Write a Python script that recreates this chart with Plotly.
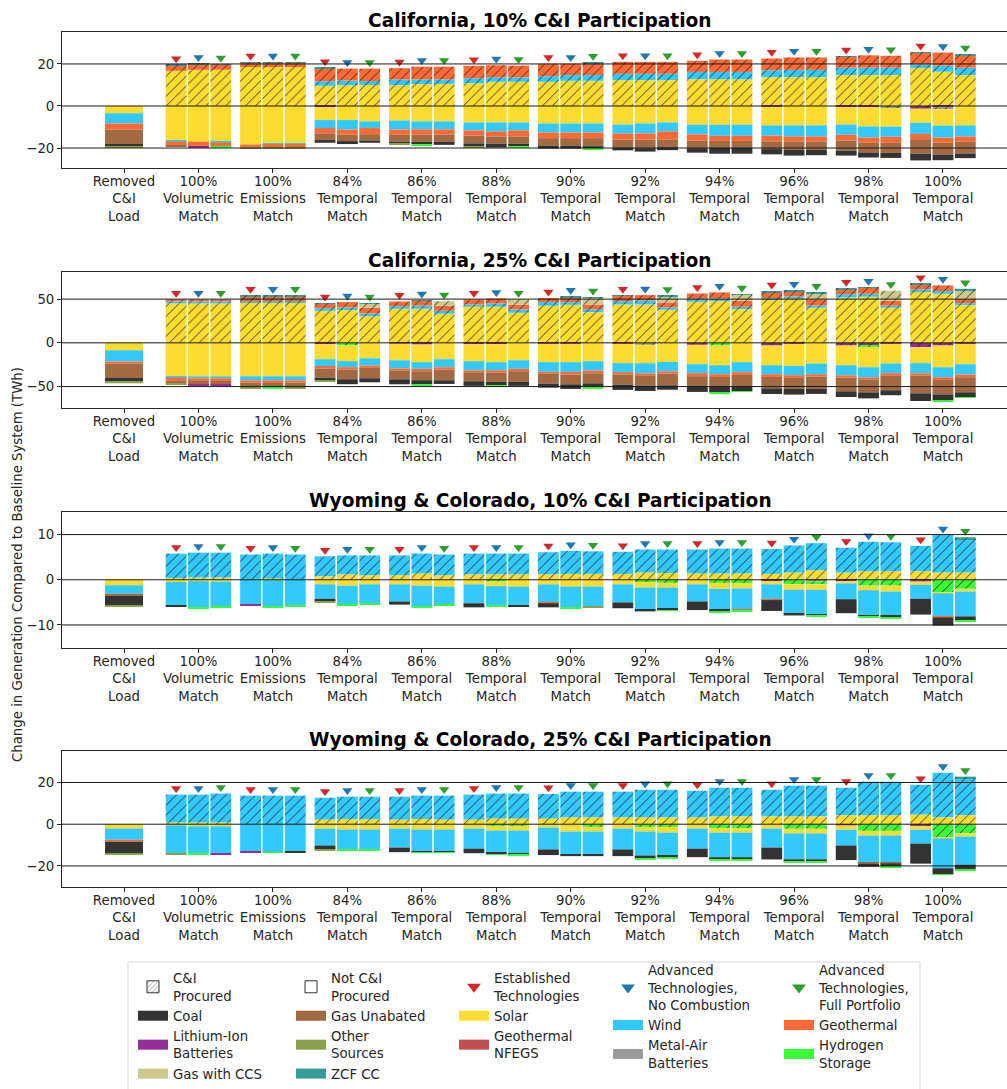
import plotly.graph_objects as go

W, H = 1007, 1089

# ---------------------------------------------------------------------------
# Categories
# ---------------------------------------------------------------------------
GROUP_LABELS = [
    "Removed<br>C&I<br>Load",
    "100%<br>Volumetric<br>Match",
    "100%<br>Emissions<br>Match",
    "84%<br>Temporal<br>Match", "86%<br>Temporal<br>Match", "88%<br>Temporal<br>Match",
    "90%<br>Temporal<br>Match", "92%<br>Temporal<br>Match", "94%<br>Temporal<br>Match",
    "96%<br>Temporal<br>Match", "98%<br>Temporal<br>Match", "100%<br>Temporal<br>Match",
]
SCENARIOS = [
    "Established<br>Technologies",
    "Advanced<br>Technologies,<br>No Combustion",
    "Advanced<br>Technologies,<br>Full Portfolio",
]

# Each list: [Removed load, then (Established, No Combustion, Full Portfolio) x 11 cases]
# Values in TWh; *_ci = C&I procured resources, others = rest of the system.

# --- California, 10% C&I participation ---
ca10_solar_ci = [0, 16.7, 17.2, 17.2, 18.5, 18.5, 18.5, 9.6, 9.9, 10.0, 9.9, 10.4, 10.5, 10.8, 11.5, 11.5, 11.5, 12.0, 12.0, 12.3, 12.3, 12.3, 12.7, 12.7, 12.7, 13.7, 13.7, 13.7, 14.7, 14.7, 14.7, 18.0, 16.3, 14.7]
ca10_wind_ci = [0, 0, 0, 0, 0, 0, 0, 2.2, 2.2, 1.9, 2.7, 2.2, 2.1, 2.4, 2.2, 2.1, 2.7, 2.7, 2.7, 3.0, 3.0, 3.0, 3.5, 3.5, 3.5, 3.3, 3.5, 3.5, 3.5, 3.5, 3.5, 1.8, 2.9, 3.5]
ca10_geo_ci = [0, 2.7, 2.7, 2.5, 2.1, 2.1, 2.1, 6.2, 5.7, 5.9, 5.4, 6.1, 6.1, 5.9, 5.7, 5.6, 5.9, 5.4, 5.7, 5.7, 5.7, 5.7, 5.3, 5.9, 5.9, 5.6, 5.9, 5.9, 5.3, 5.9, 5.7, 5.6, 6.2, 6.0]
ca10_zcf_ci = [0, 0.2, 0.2, 0.2, 0.3, 0.3, 0.3, 0.1, 0, 0, 0, 0, 0, 0, 0, 0, 0, 0, 0.3, 0, 0, 0, 0, 0, 0, 0, 0, 0, 0.2, 0, 0, 0.2, 0, 0.5]
ca10_li_ci = [0, 0, 0, 0, 0, 0, 0, -0.6, 0, 0, 0, 0, 0, 0, 0, 0, 0, 0, 0, 0, 0, 0, 0, 0, 0, -0.4, 0, 0, -0.6, -0.6, 0, -1.3, -0.5, 0]
ca10_metal_ci = [0, 0, 0, 0, 0, 0, 0, 0, 0, 0, 0, 0, 0, 0, 0, 0, 0, 0, 0, 0, 0, 0, 0, 0, 0, 0, 0, 0, 0, 0, -1.0, 0, -1.0, 0]
ca10_solar = [-3.5, -16.4, -16.9, -16.9, -18.3, -17.8, -17.8, -6.1, -6.7, -7.3, -6.9, -7.3, -7.3, -7.8, -7.8, -7.8, -8.3, -8.3, -8.3, -8.8, -8.3, -7.8, -8.9, -8.9, -8.9, -8.8, -9.2, -9.2, -8.2, -9.1, -8.8, -6.7, -7.8, -9.2]
ca10_wind = [-4.8, -0.5, 0, -0.5, 0, -0.3, -0.3, -3.8, -4.5, -3.2, -4.3, -3.8, -3.8, -3.8, -4.3, -3.8, -4.3, -4.3, -4.3, -4.3, -4.8, -4.3, -4.6, -5.3, -5.3, -4.9, -5.3, -5.3, -4.9, -5.3, -4.8, -5.3, -5.7, -5.3]
ca10_geo = [-2.9, -1.9, -2.4, -1.7, -1.4, -1.6, -1.6, -2.5, -2.5, -2.9, -2.5, -2.5, -2.5, -2.5, -2.4, -2.9, -2.7, -2.7, -2.7, -2.9, -2.9, -3.8, -2.9, -2.4, -2.4, -2.7, -2.4, -2.4, -2.7, -2.5, -2.9, -2.5, -2.5, -2.5]
ca10_gas = [-7.1, -0.3, 0, 0, 0, 0, 0, -3.2, -3.0, -3.0, -3.2, -3.5, -3.5, -3.7, -3.5, -3.5, -3.7, -3.7, -3.8, -3.7, -4.1, -3.7, -3.7, -3.2, -3.2, -3.7, -4.0, -4.0, -4.8, -4.6, -4.8, -6.9, -5.6, -5.6]
ca10_coal = [-0.8, 0, 0, 0, 0, 0, 0, -1.3, -1.4, -1.1, -1.1, -1.0, -1.4, -1.3, -1.8, -1.1, -1.3, -1.3, -1.0, -1.4, -1.6, -1.4, -2.1, -2.9, -2.9, -2.5, -2.7, -2.5, -2.4, -2.4, -2.4, -3.2, -2.7, -2.2]
ca10_other = [-0.6, 0, 0, 0, -0.3, -0.3, -0.3, 0, 0, 0, -0.5, 0, 0, -0.6, 0, 0, 0, 0, 0, 0, 0, 0, 0, 0, 0, 0, 0, 0, 0, 0, 0, 0, 0, 0]
ca10_li = [0, 0, -0.5, 0, 0, 0, 0, 0, 0, 0, 0, 0, 0, 0, 0, 0, 0, 0, 0, 0, 0, 0, 0, 0, 0, 0, 0, 0, 0, 0, 0, 0, 0, 0]
ca10_h2 = [0, 0, 0, -0.6, 0, 0, 0, 0, 0, 0, 0, -0.5, 0, 0, 0, -0.6, 0, 0, -0.5, 0, 0, 0, 0, 0, 0, 0, 0, 0, 0, 0, 0, 0, 0, 0]

# --- California, 25% C&I participation ---
ca25_solar_ci = [0, 45.0, 45.0, 45.0, 46.6, 46.6, 46.6, 36.6, 37.4, 30.5, 38.9, 38.9, 33.2, 41.2, 41.2, 34.4, 42.4, 43.5, 35.1, 43.9, 43.9, 37.8, 46.9, 47.7, 38.5, 49.2, 50.4, 40.1, 51.9, 52.7, 40.1, 58.0, 56.1, 43.1]
ca25_wind_ci = [0, 2.3, 2.3, 2.3, 0.8, 0.8, 0.8, 3.1, 3.1, 3.1, 3.1, 3.8, 3.4, 2.7, 3.8, 3.8, 4.2, 3.1, 3.4, 3.8, 4.6, 2.7, 3.4, 3.1, 2.7, 1.9, 2.7, 2.7, 3.8, 3.4, 2.3, 3.1, 3.1, 2.3]
ca25_geo_ci = [0, 2.3, 2.3, 2.3, 6.1, 6.1, 6.1, 5.0, 6.1, 6.5, 5.3, 5.7, 5.7, 5.7, 5.7, 5.3, 4.6, 5.7, 5.3, 6.1, 6.1, 5.7, 6.1, 6.9, 6.9, 6.9, 6.1, 6.9, 5.7, 6.9, 5.7, 5.7, 6.5, 5.0]
ca25_ccs_ci = [0, 0, 0, 0, 0, 0, 0, 0, 0, 4.6, 0, 0, 5.3, 0, 0, 6.1, 0, 0, 7.6, 0, 0, 7.3, 0, 0, 6.9, 0, 0, 6.9, 0, 0, 11.5, 0, 0, 9.9]
ca25_zcf_ci = [0, 0, 0, 0, 0.8, 0.8, 0.8, 0.8, 0, 0.8, 0, 0.4, 0, 0, 0, 0, 0, 0.8, 0.8, 0.6, 0, 0.6, 0, 0, 0.8, 1.1, 0.8, 1.1, 0.8, 0.4, 0, 0.5, 0, 1.5]
ca25_li_ci = [0, 0, 0, 0, 0, 0, 0, -1.5, 0, 0, -0.8, -1.9, 0, -1.5, -1.5, 0, -1.1, -1.1, 0, -1.1, 0, 0, -2.3, 0, 0, -3.1, -1.1, 0, -3.1, -2.7, -1.1, -5.0, -3.1, -1.1]
ca25_metal_ci = [0, 0, 0, 0, 0, 0, 0, 0, 0, 0, 0, 0, 0, 0, 0, 0, 0, 0, 0, 0, -2.3, 0, 0, 0, 0, 0, 0, 0, 0, 0, 0, 0, 0, 0]
ca25_h2_ci = [0, 0, 0, 0, 0, 0, 0, 0, -3.0, 0, 0, 0, 0, 0, 0, 0, 0, 0, 0, 0, 0, 0, 0, -3.1, 0, 0, 0, 0, 0, -1.9, 0, 0, 0, 0]
ca25_solar = [-8.4, -38.2, -38.2, -38.2, -38.2, -38.2, -38.2, -17.2, -17.9, -17.6, -19.1, -20.2, -18.7, -19.5, -20.6, -19.8, -21.0, -21.0, -21.0, -22.1, -21.0, -21.8, -22.1, -22.5, -22.1, -22.5, -25.2, -23.7, -22.5, -23.3, -22.5, -18.3, -24.8, -23.3]
ca25_wind = [-13.0, -1.5, -2.3, -2.3, -4.6, -4.6, -4.6, -8.8, -6.9, -8.4, -9.2, -7.6, -9.2, -10.3, -9.2, -9.9, -11.1, -11.1, -10.7, -10.3, -11.5, -10.7, -10.3, -10.3, -11.5, -10.3, -10.7, -12.2, -11.5, -11.5, -11.1, -11.5, -11.5, -11.8]
ca25_geo = [-2.3, -3.8, -3.1, -3.1, -2.7, -3.1, -2.7, -1.9, -2.7, -2.7, -2.3, -2.7, -2.7, -2.3, -2.7, -2.7, -2.3, -3.1, -3.1, -2.7, -2.3, -2.7, -3.4, -3.1, -3.1, -3.1, -3.1, -2.7, -2.7, -2.3, -3.1, -2.7, -3.1, -3.1]
ca25_gas = [-16.4, -3.0, -3.8, -3.8, -5.0, -4.6, -5.0, -10.5, -11.1, -11.8, -10.3, -10.3, -12.2, -10.3, -10.7, -12.2, -11.1, -11.1, -11.5, -11.5, -11.8, -13.4, -11.5, -11.5, -13.0, -13.0, -12.6, -14.1, -15.6, -14.9, -16.4, -20.2, -16.4, -17.2]
ca25_coal = [-4.6, 0, 0, 0, 0, 0, 0, -3.0, -5.7, -4.6, -5.7, -4.6, -4.2, -5.3, -4.2, -4.6, -4.6, -5.3, -4.6, -6.1, -6.1, -5.0, -6.5, -6.1, -5.7, -6.5, -6.5, -5.7, -6.5, -6.9, -5.7, -8.8, -6.9, -5.7]
ca25_other = [-1.5, -1.5, 0, 0, -1.5, 0, -1.5, -1.0, 0, 0, 0, 0, 0, 0, 0, 0, 0, 0, 0, 0, 0, 0, 0, 0, 0, 0, 0, 0, 0, 0, 0, 0, 0, 0]
ca25_li = [0, 0, -1.9, -1.9, 0, 0, 0, 0, 0, 0, 0, 0, 0, 0, 0, 0, 0, 0, 0, 0, 0, 0, 0, 0, 0, 0, 0, 0, 0, 0, 0, 0, 0, 0]
ca25_h2 = [0, 0, 0, 0, 0, -1.9, 0, 0, 0, 0, 0, -1.1, 0, 0, -1.1, 0, 0, 0, -0.8, 0, 0, 0, 0, -0.8, -0.8, 0, 0, 0, 0, 0, 0, 0, -0.8, -0.8]

# --- Wyoming & Colorado, 10% C&I participation ---
wy10_solar_ci = [0, 0.4, 0.5, 0.5, 0.1, 0.3, 0, 0.8, 1.2, 1.0, 1.0, 1.4, 1.0, 1.2, 1.2, 1.2, 1.2, 1.3, 1.3, 1.3, 1.6, 1.5, 1.4, 1.4, 1.4, 1.3, 1.6, 2.1, 1.6, 1.9, 1.9, 1.9, 1.6, 1.6]
wy10_wind_ci = [0, 5.4, 5.5, 5.5, 5.5, 5.5, 5.6, 4.4, 4.2, 4.4, 4.4, 4.4, 4.6, 4.6, 4.6, 4.6, 4.9, 5.1, 5.0, 4.9, 5.1, 5.2, 5.3, 5.5, 5.5, 5.5, 6.0, 6.0, 5.5, 6.5, 6.4, 5.6, 8.3, 7.4]
wy10_zcf_ci = [0, 0, 0, 0, 0, 0, 0, 0, 0, 0, 0, 0, 0, 0, 0, 0, 0, 0, 0, 0, 0, 0, 0, 0, 0, 0, 0, 0, 0, 0, 0, 0, 0, 0.4]
wy10_li_ci = [0, 0, 0, 0, 0, 0, 0, 0, 0, 0, 0, 0, 0, 0, 0, 0, 0, 0, 0, 0, 0, 0, 0, 0, 0, -0.3, 0, 0, -0.3, 0, 0, -0.4, 0, 0]
wy10_metal_ci = [0, 0, 0, 0, 0, 0, 0, 0, 0, 0, 0, 0, 0, 0, 0, 0, 0, 0, 0, 0, 0, 0, 0, 0, 0, 0, 0, -0.4, 0, 0, 0, 0, 0, 0]
wy10_h2_ci = [0, 0, 0, 0, 0, 0, 0, 0, 0, 0, 0, 0, 0, 0, -0.4, 0, 0, 0, 0, 0, -0.5, -0.7, 0, -0.7, -0.8, 0, -1.0, -0.6, 0, -1.3, -1.3, 0, -2.8, -2.0]
wy10_solar = [-1.2, -0.5, -0.3, -0.4, 0, -0.1, 0, -1.0, -1.3, -1.0, -1.0, -1.3, -1.5, -1.0, -1.0, -1.5, -1.0, -1.5, -1.5, -1.0, -1.2, -1.0, -1.0, -1.3, -1.1, -0.7, -1.2, -1.2, -0.5, -1.0, -1.3, -0.7, -0.2, -0.6]
wy10_wind = [-1.9, -5.2, -5.8, -5.5, -5.5, -5.8, -5.8, -3.2, -4.1, -4.2, -3.8, -4.6, -4.0, -4.2, -4.4, -4.2, -4.0, -4.6, -4.4, -4.0, -4.9, -4.6, -3.8, -4.6, -4.6, -3.3, -5.3, -5.5, -3.5, -5.5, -5.3, -3.1, -5.2, -5.5]
wy10_geo = [0, 0, 0, 0, 0, 0, 0, 0, 0, 0, 0, 0, 0, 0, 0, 0, -0.2, 0, 0, 0, 0, 0, 0, 0, -0.3, -0.2, 0, 0, 0, 0, 0, 0, -0.15, 0]
wy10_gas = [-0.5, 0, 0, 0, 0, 0, 0, 0, 0, 0, 0, 0, 0, 0, 0, 0, 0, 0, 0, 0, 0, 0, 0, 0, 0, 0, 0, 0, 0, 0, 0, 0, 0, 0]
wy10_coal = [-2.1, -0.15, 0, 0, 0, 0, 0, -0.6, 0, 0, -0.7, 0, 0, -0.9, 0, -0.2, -0.9, 0, 0, -1.3, -0.4, -0.4, -1.9, -0.4, 0, -2.4, -0.4, -0.2, -3.1, -0.4, -0.4, -3.5, -1.8, -1.0]
wy10_other = [-0.2, 0, 0, 0, 0, 0, 0, -0.3, 0, 0, 0, 0, 0, 0, 0, 0, 0, 0, -0.3, 0, 0, 0, 0, 0, 0, 0, 0, 0, 0, 0, 0, 0, 0, 0]
wy10_li = [0, 0, 0, 0, -0.2, 0, 0, 0, 0, 0, 0, 0, 0, 0, 0, 0, 0, 0, 0, 0, 0, 0, 0, 0, 0, 0, 0, 0, 0, 0, 0, 0, 0, 0]
wy10_h2 = [0, 0, -0.15, -0.15, 0, -0.15, -0.15, 0, -0.3, -0.2, 0, -0.2, -0.2, 0, -0.2, 0, 0, -0.3, 0, 0, 0, -0.2, 0, -0.2, -0.3, 0, 0, -0.2, 0, -0.2, -0.2, 0, 0, -0.2]

# --- Wyoming & Colorado, 25% C&I participation ---
wy25_solar_ci = [0, 0.8, 0.8, 0.8, 0, 0, 0, 2.2, 2.4, 2.4, 2.2, 2.5, 2.2, 2.2, 2.7, 2.7, 2.7, 3.3, 3.3, 3.3, 3.3, 3.3, 3.3, 3.8, 3.8, 3.8, 3.8, 3.8, 4.3, 4.3, 4.3, 4.6, 3.3, 4.3]
wy25_wind_ci = [0, 13.4, 13.4, 13.9, 13.7, 13.7, 13.7, 10.5, 10.8, 10.8, 11.0, 11.2, 11.5, 12.0, 12.0, 12.0, 11.8, 12.3, 12.3, 12.3, 13.2, 13.2, 12.7, 13.7, 13.7, 12.7, 14.7, 14.7, 13.2, 16.1, 16.1, 14.3, 21.4, 17.7]
wy25_zcf_ci = [0, 0, 0, 0, 0, 0, 0, 0, 0, 0, 0, 0, 0, 0, 0, 0, 0, 0, 0, 0, 0, 0, 0, 0, 0, 0, 0, 0, 0, 0, 0, 0, 0, 0.8]
wy25_li_ci = [0, 0, 0, 0, 0, 0, 0, 0, 0, 0, 0, 0, 0, 0, 0, 0, 0, 0, 0, 0, 0, 0, 0, 0, 0, 0, 0, 0, -0.5, 0, 0, -0.8, 0, 0]
wy25_h2_ci = [0, 0, 0, 0, 0, 0, 0, 0, 0, 0, 0, 0, 0, 0, -0.8, -0.8, 0, 0, -1.3, 0, -1.3, -1.3, 0, -1.8, -1.8, 0, -2.2, -2.2, 0, -3.2, -3.2, 0, -6.2, -4.3]
wy25_solar = [-2.1, -0.6, -1.0, -1.0, 0, 0, 0, -2.1, -2.5, -2.5, -2.1, -2.5, -2.5, -2.1, -2.2, -2.2, -1.6, -3.5, -2.2, -2.1, -2.2, -2.7, -2.1, -2.2, -2.2, -2.1, -2.2, -2.2, -2.1, -2.2, -2.2, -1.8, -0.6, -1.6]
wy25_wind = [-5.3, -13.2, -12.9, -12.9, -13.1, -13.4, -13.1, -8.1, -9.4, -9.4, -9.1, -10.5, -10.5, -9.6, -10.5, -11.0, -10.5, -11.0, -11.0, -10.0, -11.5, -11.0, -9.6, -11.8, -11.8, -9.1, -12.4, -12.4, -7.6, -13.1, -13.1, -6.7, -14.3, -13.5]
wy25_geo = [-1.0, 0, 0, 0, 0, 0, 0, 0, 0, 0, 0, 0, 0, 0, 0, 0, 0, 0, 0, 0, 0, 0, 0, 0, 0, 0, 0, 0, 0, 0, 0, 0, 0, 0]
wy25_gas = [0, 0, 0, 0, 0, 0, 0, 0, 0, 0, 0, 0, 0, 0, 0, 0, 0, 0, 0, 0, 0, 0, 0, 0, 0, 0, 0, 0, 0, -0.5, -0.3, 0, 0, 0]
wy25_coal = [-5.6, 0, 0, 0, 0, 0, -0.4, -1.8, -0.4, -0.4, -2.2, -0.4, -0.4, -2.2, -0.8, -0.5, -2.7, -0.8, -0.8, -3.2, -1.3, -0.8, -4.1, -1.0, -1.0, -5.7, -1.3, -1.3, -7.0, -1.4, -1.3, -9.6, -2.9, -2.5]
wy25_other = [-0.5, -0.5, 0, 0, 0, 0, 0, -0.5, 0, 0, 0, 0, 0, 0, 0, 0, 0, 0, 0, 0, 0, 0, 0, 0, 0, 0, 0, 0, 0, 0, 0, 0, 0, 0]
wy25_li = [0, 0, 0, -0.4, -0.4, 0, 0, 0, 0, 0, 0, 0, 0, 0, 0, 0, 0, 0, 0, 0, 0, 0, 0, 0, 0, 0, 0, 0, 0, 0, 0, 0, 0, 0]
wy25_h2 = [0, 0, -0.4, 0, 0, -0.4, 0, 0, -0.4, -0.4, 0, -0.3, -0.3, 0, -0.4, -0.3, 0, 0, 0, 0, -0.5, -0.5, 0, -0.5, -0.5, 0, -0.5, -0.5, 0, 0, -0.5, 0, -0.3, -0.5]

# ---------------------------------------------------------------------------
# Styling
# ---------------------------------------------------------------------------
COAL = "#333333"
GAS = "#a26a42"
SOLAR = "#fddc32"
WIND = "#33c9fd"
GEO = "#fe6a35"
NFEGS = "#c24f4e"
LI = "#952e9a"
OTHER = "#87a24b"
CCS = "#cdc88c"
ZCF = "#339b98"
METAL = "#9a9a9a"
H2 = "#38fd38"
SCEN_COLORS = ["#d62728", "#1f77b4", "#2ca02c"]

FONT = "DejaVu Sans"
TXT = "#262626"
FS = 13.3

# stacking order (positives grow up, negatives grow down, in this order)
STACK = [
    ("solar_ci", SOLAR, True), ("wind_ci", WIND, True), ("geo_ci", GEO, True),
    ("ccs_ci", CCS, True), ("zcf_ci", ZCF, True),
    ("li_ci", LI, True), ("metal_ci", METAL, True), ("h2_ci", H2, True),
    ("solar", SOLAR, False), ("wind", WIND, False), ("geo", GEO, False),
    ("gas", GAS, False), ("coal", COAL, False), ("other", OTHER, False),
    ("li", LI, False), ("h2", H2, False),
]

PANELS = [
    dict(title="California, 10% C&I Participation", ticks=[-20, 0, 20],
         yrange=[-29.5, 35.2], top=32, bottom=168,
         data=dict(solar_ci=ca10_solar_ci, wind_ci=ca10_wind_ci, geo_ci=ca10_geo_ci,
                   zcf_ci=ca10_zcf_ci, li_ci=ca10_li_ci, metal_ci=ca10_metal_ci,
                   solar=ca10_solar, wind=ca10_wind, geo=ca10_geo, gas=ca10_gas,
                   coal=ca10_coal, other=ca10_other, li=ca10_li, h2=ca10_h2)),
    dict(title="California, 25% C&I Participation", ticks=[-50, 0, 50],
         yrange=[-74.5, 81.0], top=272, bottom=408,
         data=dict(solar_ci=ca25_solar_ci, wind_ci=ca25_wind_ci, geo_ci=ca25_geo_ci,
                   ccs_ci=ca25_ccs_ci, zcf_ci=ca25_zcf_ci, li_ci=ca25_li_ci,
                   metal_ci=ca25_metal_ci, h2_ci=ca25_h2_ci,
                   solar=ca25_solar, wind=ca25_wind, geo=ca25_geo, gas=ca25_gas,
                   coal=ca25_coal, other=ca25_other, li=ca25_li, h2=ca25_h2)),
    dict(title="Wyoming & Colorado, 10% C&I Participation", ticks=[-10, 0, 10],
         yrange=[-15.1, 15.0], top=512, bottom=648,
         data=dict(solar_ci=wy10_solar_ci, wind_ci=wy10_wind_ci, zcf_ci=wy10_zcf_ci,
                   li_ci=wy10_li_ci, metal_ci=wy10_metal_ci, h2_ci=wy10_h2_ci,
                   solar=wy10_solar, wind=wy10_wind, geo=wy10_geo, gas=wy10_gas,
                   coal=wy10_coal, other=wy10_other, li=wy10_li, h2=wy10_h2)),
    dict(title="Wyoming & Colorado, 25% C&I Participation", ticks=[-20, 0, 20],
         yrange=[-30.1, 35.1], top=751, bottom=887,
         data=dict(solar_ci=wy25_solar_ci, wind_ci=wy25_wind_ci, zcf_ci=wy25_zcf_ci,
                   li_ci=wy25_li_ci, h2_ci=wy25_h2_ci,
                   solar=wy25_solar, wind=wy25_wind, geo=wy25_geo, gas=wy25_gas,
                   coal=wy25_coal, other=wy25_other, li=wy25_li, h2=wy25_h2)),
]

N_GROUPS = len(GROUP_LABELS)
N_BARS = 1 + 3 * (N_GROUPS - 1)

# bar centres / widths: one wide bar for the removed load, then three per case
bar_x, bar_w = [0.0], [0.51]
for g in range(1, N_GROUPS):
    for s in range(3):
        bar_x.append(g + (s - 1) * 0.3)
        bar_w.append(0.28)

HATCH = dict(shape="/", fgcolor="#1a1a1a", fgopacity=0.85, size=7, solidity=0.14)

fig = go.Figure()
shapes, annotations = [], []
layout_axes = {}

for p, panel in enumerate(PANELS):
    sfx = "" if p == 0 else str(p + 1)
    xa, ya = "x" + sfx, "y" + sfx
    data = panel["data"]

    for key, color, hatched in STACK:
        vals = data.get(key)
        if vals is None:
            continue
        if len(vals) != N_BARS:
            raise ValueError(f"{panel['title']} / {key}: {len(vals)} values")
        pattern = dict(HATCH, bgcolor=color) if hatched else dict(shape="")
        fig.add_trace(go.Bar(
            x=bar_x, y=vals, width=bar_w, xaxis=xa, yaxis=ya,
            marker=dict(color=color, line=dict(width=0), pattern=pattern),
            showlegend=False, hoverinfo="skip"))

    # scenario triangles sit just above the positive stack of each bar
    tops = [sum(max(v[i], 0) for v in data.values()) for i in range(N_BARS)]
    pad = 0.045 * (panel["yrange"][1] - panel["yrange"][0])
    for s in range(3):
        idx = [1 + 3 * g + s for g in range(N_GROUPS - 1)]
        fig.add_trace(go.Scatter(
            x=[bar_x[i] for i in idx], y=[tops[i] + pad for i in idx],
            mode="markers", xaxis=xa, yaxis=ya,
            marker=dict(symbol="triangle-down", size=9, color=SCEN_COLORS[s],
                        line=dict(width=0)),
            showlegend=False, hoverinfo="skip"))

    y0, y1 = 1 - panel["bottom"] / H, 1 - panel["top"] / H
    layout_axes["xaxis" + sfx] = dict(
        domain=[62 / W, 1], range=[-0.833, 11.86], anchor=ya,
        tickmode="array", tickvals=list(range(N_GROUPS)), ticktext=GROUP_LABELS,
        ticks="outside", ticklen=4, tickcolor=TXT, showline=True, mirror=True,
        linecolor=TXT, linewidth=1, showgrid=False, zeroline=False,
        ticklabelstandoff=-3,
        tickfont=dict(family=FONT, size=FS, color=TXT), fixedrange=True)
    layout_axes["yaxis" + sfx] = dict(
        domain=[y0, y1], range=panel["yrange"], anchor=xa,
        tickmode="array", tickvals=panel["ticks"],
        ticks="outside", ticklen=4, tickcolor=TXT, showline=True, mirror=False,
        linecolor=TXT, linewidth=1, showgrid=False, zeroline=False,
        tickfont=dict(family=FONT, size=FS, color=TXT), fixedrange=True)

    # horizontal reference lines drawn over the bars
    for t in panel["ticks"]:
        shapes.append(dict(type="line", xref=xa + " domain", x0=0, x1=1,
                           yref=ya, y0=t, y1=t, layer="above",
                           line=dict(color="#1a1a1a", width=1)))

    annotations.append(dict(
        text="<b>" + panel["title"] + "</b>", xref="paper", yref="paper",
        x=540 / W, y=1 - (panel["top"] - 12) / H, xanchor="center", yanchor="middle",
        showarrow=False, font=dict(family=FONT, size=18.6, color="black")))

annotations.append(dict(
    text="Change in Generation Compared to Baseline System (TWh)",
    xref="paper", yref="paper", x=17 / W, y=1 - 565 / H, textangle=-90,
    xanchor="center", yanchor="middle", showarrow=False,
    font=dict(family=FONT, size=FS, color=TXT)))

# ---------------------------------------------------------------------------
# Legend: five independent columns inside one framed box
# ---------------------------------------------------------------------------
def patch(name, color, legend):
    return go.Scatter(x=[None], y=[None], mode="lines", name=name, legend=legend,
                      line=dict(color=color, width=10), hoverinfo="skip")


def tri(name, color, legend):
    return go.Scatter(x=[None], y=[None], mode="markers", name=name, legend=legend,
                      marker=dict(symbol="triangle-down", size=12, color=color,
                                  line=dict(width=0)), hoverinfo="skip")


legend_items = [
    go.Bar(x=[None], y=[None], name="C&I<br>Procured", legend="legend",
           marker=dict(color="white", line=dict(color="#333", width=1),
                       pattern=dict(shape="/", fgcolor="#333", bgcolor="white",
                                    size=4, solidity=0.25)), hoverinfo="skip"),
    patch("Coal", COAL, "legend"),
    patch("Lithium-Ion<br>Batteries", LI, "legend"),
    patch("Gas with CCS", CCS, "legend"),
    go.Bar(x=[None], y=[None], name="Not C&I<br>Procured", legend="legend2",
           marker=dict(color="white", line=dict(color="#333", width=1)),
           hoverinfo="skip"),
    patch("Gas Unabated", GAS, "legend2"),
    patch("Other<br>Sources", OTHER, "legend2"),
    patch("ZCF CC", ZCF, "legend2"),
    tri(SCENARIOS[0], SCEN_COLORS[0], "legend3"),
    patch("Solar", SOLAR, "legend3"),
    patch("Geothermal<br>NFEGS", NFEGS, "legend3"),
    tri(SCENARIOS[1], SCEN_COLORS[1], "legend4"),
    patch("Wind", WIND, "legend4"),
    patch("Metal-Air<br>Batteries", METAL, "legend4"),
    tri(SCENARIOS[2], SCEN_COLORS[2], "legend5"),
    patch("Geothermal", GEO, "legend5"),
    patch("Hydrogen<br>Storage", H2, "legend5"),
]
for tr in legend_items:
    fig.add_trace(tr)

LEG_COLS = [("legend", 133, 963), ("legend2", 291, 963), ("legend3", 454, 963),
            ("legend4", 608, 955), ("legend5", 779, 955)]
legends = {}
for name, left, top in LEG_COLS:
    legends[name] = dict(
        x=left / W, y=1 - top / H, xanchor="left", yanchor="top",
        orientation="v", bgcolor="rgba(0,0,0,0)", borderwidth=0,
        itemwidth=30, tracegroupgap=0, traceorder="normal",
        font=dict(family=FONT, size=FS, color=TXT))

shapes.append(dict(type="rect", xref="paper", yref="paper",
                   x0=128 / W, x1=920 / W, y0=1 - 1100 / H, y1=1 - 962 / H,
                   line=dict(color="#d5d5d5", width=1), fillcolor="rgba(0,0,0,0)",
                   layer="below"))

fig.update_layout(
    width=W, height=H, autosize=False,
    margin=dict(l=0, r=0, t=0, b=0, pad=0),
    paper_bgcolor="white", plot_bgcolor="white",
    barmode="relative", showlegend=True,
    font=dict(family=FONT, size=FS, color=TXT),
    shapes=shapes, annotations=annotations,
    **layout_axes, **legends)

fig.write_html("out.html", config={"displayModeBar": False})
